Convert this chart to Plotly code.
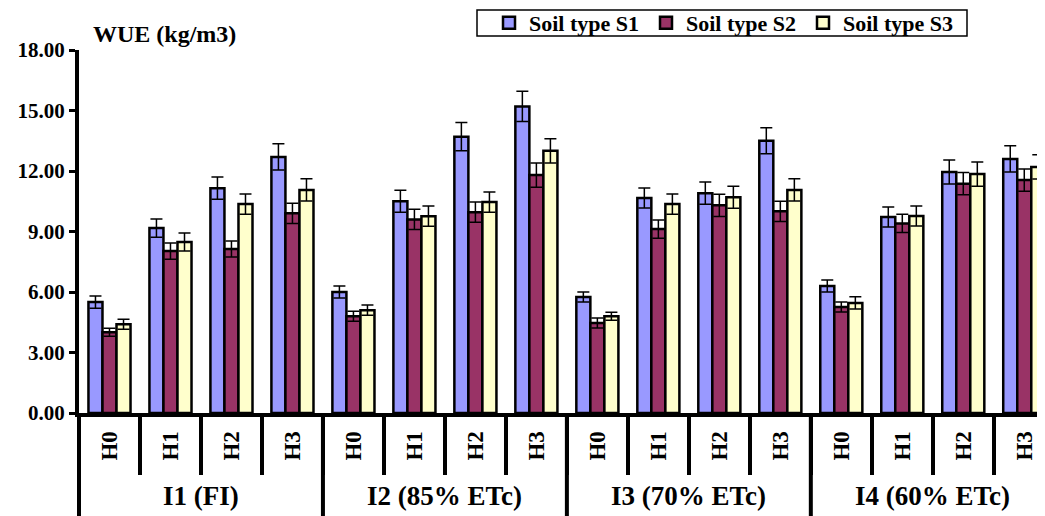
import plotly.graph_objects as go

levels = ["H0", "H1", "H2", "H3"]
irrigations = ["I1 (FI)", "I2 (85% ETc)", "I3 (70% ETc)", "I4 (60% ETc)"]
series_names = ["Soil type S1", "Soil type S2", "Soil type S3"]

s1 = [5.5, 9.17, 11.15, 12.7, 6.0, 10.5, 13.7, 15.2, 5.75, 10.66, 10.9, 13.5, 6.3, 9.72, 11.95, 12.6]
s2 = [4.0, 8.03, 8.13, 9.9, 4.8, 9.6, 9.96, 11.8, 4.46, 9.12, 10.3, 10.0, 5.26, 9.4, 11.37, 11.55]
s3 = [4.4, 8.48, 10.36, 11.06, 5.1, 9.76, 10.46, 13.0, 4.8, 10.36, 10.7, 11.06, 5.46, 9.77, 11.85, 12.2]
e1 = [0.3, 0.45, 0.55, 0.65, 0.3, 0.55, 0.7, 0.75, 0.25, 0.5, 0.55, 0.65, 0.3, 0.5, 0.6, 0.65]
e2 = [0.2, 0.4, 0.4, 0.5, 0.25, 0.5, 0.5, 0.6, 0.25, 0.45, 0.55, 0.5, 0.25, 0.45, 0.55, 0.55]
e3 = [0.25, 0.45, 0.5, 0.55, 0.25, 0.5, 0.5, 0.6, 0.2, 0.5, 0.55, 0.55, 0.3, 0.5, 0.6, 0.6]

colors = ["#9999FF", "#993366", "#FFFFCC"]
FONT = "Liberation Serif, Times New Roman, serif"

n = len(irrigations) * len(levels)
xpos = list(range(n))
ticktext = levels * len(irrigations)

fig = go.Figure()
for name, vals, errs, col in zip(series_names, [s1, s2, s3], [e1, e2, e3], colors):
    fig.add_trace(go.Bar(
        x=xpos, y=vals, name=name,
        marker=dict(color=col, line=dict(color="black", width=2.5)),
        error_y=dict(type="data", array=errs, visible=True, color="black",
                     thickness=1.5, width=6),
    ))

# page has an 8px body margin; figure is sized to fill the rest of the window
PAD = 8
W, H = 1045 - PAD, 516 - PAD
ML, MR, MT, MB = 79 - PAD, 0, 50 - PAD, 103
PW, PH = W - ML - MR, H - MT - MB
r0, r1 = -0.5, 15.34
def xp(v):
    return (v - r0) / (r1 - r0)
def px_x(p):  # reference-window pixel -> paper x
    return (p - PAD - ML) / PW
def px_y(p):  # reference-window pixel -> paper y
    return (H - MB - (p - PAD)) / PH

shapes = []
for g in range(len(irrigations)):
    xv = g * len(levels) - 0.5
    shapes.append(dict(type="line", xref="paper", yref="paper",
                       x0=xp(xv), x1=xp(xv), y0=0, y1=px_y(520),
                       line=dict(color="black", width=4)))
# legend frame
shapes.append(dict(type="rect", xref="paper", yref="paper",
                   x0=px_x(477), x1=px_x(967), y0=px_y(36), y1=px_y(10),
                   line=dict(color="black", width=1.5), fillcolor="rgba(0,0,0,0)"))

annotations = []
for g, lab in enumerate(irrigations):
    annotations.append(dict(x=g * len(levels) + 1.5, xref="x", y=px_y(496), yref="paper",
                            text=lab, showarrow=False, xanchor="center", yanchor="middle",
                            font=dict(family=FONT, size=27, color="black", weight="bold")))
annotations.append(dict(x=px_x(91), xref="paper", y=px_y(34), yref="paper", text="WUE (kg/m3)",
                        showarrow=False, xanchor="left", yanchor="middle",
                        font=dict(family=FONT, size=24, color="black", weight="bold")))

fig.update_layout(
    width=W, height=H,
    margin=dict(l=ML, r=MR, t=MT, b=MB, autoexpand=False),
    paper_bgcolor="white", plot_bgcolor="white",
    barmode="group", bargap=0.31, bargroupgap=0,
    font=dict(family=FONT, color="black"),
    showlegend=True,
    legend=dict(orientation="h", x=px_x(489), y=px_y(23), xanchor="left", yanchor="middle",
                bgcolor="rgba(0,0,0,0)", borderwidth=0,
                font=dict(family=FONT, size=22, color="black", weight="bold"),
                entrywidth=112, entrywidthmode="pixels", itemwidth=30),
    xaxis=dict(range=[r0, r1], tickmode="array", tickvals=xpos, ticktext=ticktext,
               tickangle=-90, ticks="", showline=True, linecolor="black", linewidth=4,
               showgrid=False, zeroline=False, ticklabelstandoff=5, automargin=False,
               tickfont=dict(family=FONT, size=23, color="black", weight="bold"),
               minor=dict(tickmode="array", tickvals=[i - 0.5 for i in range(n + 1)],
                          ticks="outside", ticklen=58, tickwidth=4, tickcolor="black",
                          showgrid=False)),
    yaxis=dict(range=[0, 18], tickmode="linear", tick0=0, dtick=3, tickformat=".2f",
               ticks="outside", ticklen=6, tickwidth=3, tickcolor="black",
               showline=True, linecolor="black", linewidth=4, showgrid=False,
               zeroline=False, automargin=False,
               tickfont=dict(family=FONT, size=21, color="black", weight="bold")),
    shapes=shapes, annotations=annotations,
)

fig.write_html("out.html")
